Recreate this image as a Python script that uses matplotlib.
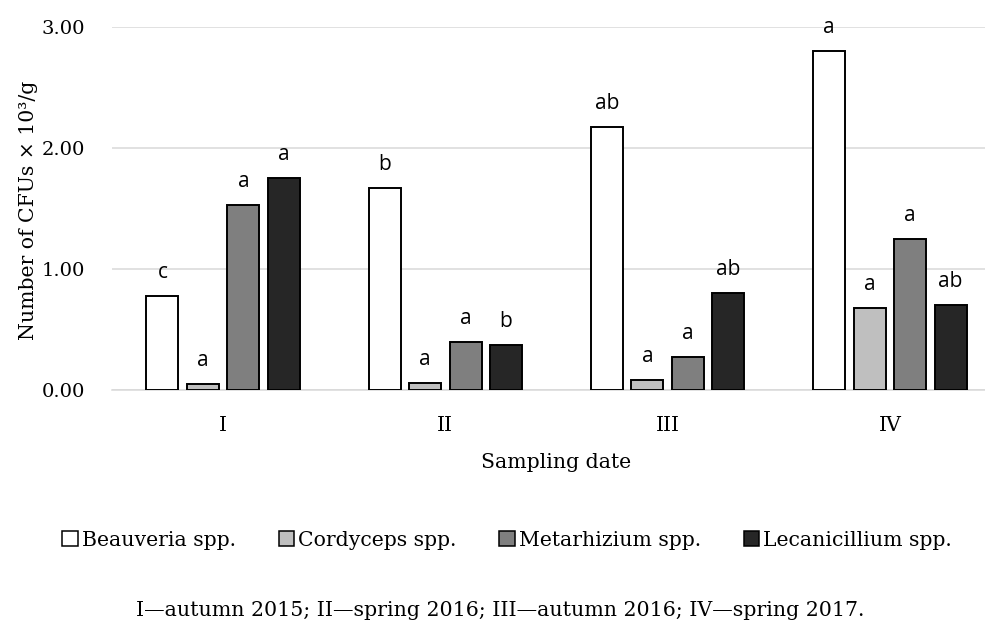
import matplotlib
matplotlib.use("Agg")
import matplotlib.pyplot as plt
import numpy as np
from matplotlib.patches import Patch

categories = ["I", "II", "III", "IV"]
series_names = ["Beauveria spp.", "Cordyceps spp.", "Metarhizium spp.", "Lecanicillium spp."]
beauveria = [0.78, 1.67, 2.17, 2.80]
cordyceps = [0.05, 0.06, 0.08, 0.68]
metarhizium = [1.53, 0.40, 0.27, 1.25]
lecanicillium = [1.75, 0.37, 0.80, 0.70]
letters_beauveria = ["c", "b", "ab", "a"]
letters_cordyceps = ["a", "a", "a", "a"]
letters_metarhizium = ["a", "a", "a", "a"]
letters_lecanicillium = ["a", "b", "ab", "ab"]
yticks = [0.0, 1.0, 2.0, 3.0]
ytick_labels = ["0.00", "1.00", "2.00", "3.00"]

values = [beauveria, cordyceps, metarhizium, lecanicillium]
letters = [letters_beauveria, letters_cordyceps, letters_metarhizium, letters_lecanicillium]
colors = ["#ffffff", "#bfbfbf", "#7f7f7f", "#262626"]

W, H = 985, 623
fig = plt.figure(figsize=(W / 100, H / 100), dpi=100)
ax = fig.add_axes([112 / W, 1 - 390 / H, (1001 - 112) / W, (390 - 27) / H])

serif = ["DejaVu Serif"]
sans = ["Open Sans", "DejaVu Sans"]
fs = 14.7

x = np.arange(len(categories))
step = 0.182
width = 0.144
for i, (vals, labs, col) in enumerate(zip(values, letters, colors)):
    pos = x + (i - 1.5) * step
    ax.bar(pos, vals, width=width, color=col, edgecolor="black", linewidth=1.4, zorder=3,
           label=series_names[i])
    for p, v, l in zip(pos, vals, labs):
        ax.annotate(l, (p, v), xytext=(0, 13), textcoords="offset points", ha="center",
                    va="baseline", fontsize=15, family=sans, annotation_clip=False)

ax.set_xlim(-0.5, 3.5)
ax.set_ylim(0, 3)
ax.set_yticks(yticks)
ax.set_yticklabels(ytick_labels, family=serif, fontsize=14)
ax.set_xticks(x)
ax.set_xticklabels(categories, family=serif, fontsize=fs)
ax.tick_params(length=0)
ax.tick_params(axis="x", pad=19)
ax.tick_params(axis="y", pad=19.5)
ax.grid(axis="y", color="#d9d9d9", linewidth=1.1, zorder=0)
for s in ["top", "right", "left"]:
    ax.spines[s].set_visible(False)
ax.spines["bottom"].set_color("#d9d9d9")
ax.spines["bottom"].set_linewidth(1.1)

ax.set_ylabel("Number of CFUs × 10³/g", family=serif, fontsize=fs)
ax.yaxis.set_label_coords(-0.083, 0.496)

fig.text(556 / W, 1 - 468 / H, "Sampling date", ha="center", va="baseline",
         family=serif, fontsize=fs)

handles = [Patch(facecolor=c, edgecolor="black", linewidth=1.1) for c in colors]
fig.legend(handles, series_names, loc="center", bbox_to_anchor=(507 / W, 1 - 540 / H), ncol=4,
           frameon=False, handlelength=0.75, handleheight=0.75, handletextpad=0.2,
           columnspacing=2.1, borderpad=0, borderaxespad=0,
           prop={"family": serif, "size": fs})

fig.text(500 / W, 1 - 616 / H, "I—autumn 2015; II—spring 2016; III—autumn 2016; IV—spring 2017.",
         ha="center", va="baseline", family=serif, fontsize=14.8)

fig.savefig("out.png", dpi=100)
